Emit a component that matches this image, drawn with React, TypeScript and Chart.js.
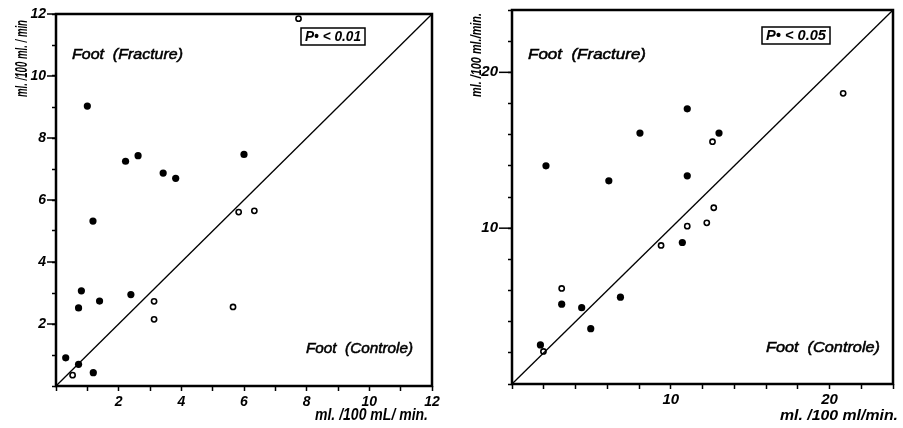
import React, { useEffect, useRef } from 'react';
import { Chart, registerables } from 'chart.js';

Chart.register(...registerables);

// ---- Data ----
// Left panel: 0..12 ml/100 ml/min
const leftFilledX = [1.0, 2.22, 2.62, 3.42, 3.82, 6.0, 1.18, 0.81, 0.72, 1.39, 2.39, 0.31, 0.72, 1.19];
const leftFilledY = [9.03, 7.25, 7.43, 6.87, 6.7, 7.47, 5.32, 3.07, 2.52, 2.74, 2.95, 0.91, 0.7, 0.43];
const leftOpenX = [7.74, 5.83, 6.33, 3.13, 3.13, 5.65, 0.53];
const leftOpenY = [11.85, 5.61, 5.65, 2.73, 2.15, 2.55, 0.35];
const leftLabeledTicks = [2, 4, 6, 8, 10, 12];

// Right panel: 0..24 ml/100 ml/min
const rightFilledX = [2.14, 6.1, 8.06, 11.04, 13.04, 11.04, 10.73, 3.13, 4.39, 4.96, 6.83, 1.79];
const rightFilledY = [14.0, 13.04, 16.1, 17.66, 16.1, 13.36, 9.08, 5.12, 4.9, 3.55, 5.57, 2.51];
const rightOpenX = [20.86, 12.63, 12.71, 12.27, 11.04, 9.39, 3.13, 1.98];
const rightOpenY = [18.65, 15.55, 11.31, 10.34, 10.13, 8.89, 6.13, 2.09];
const rightLabeledTicks = [10, 20];

const FONT = '"Liberation Sans", Arial, sans-serif';

type Txt = { text: string; x: number; y: number; w: number; align: CanvasTextAlign };
type PanelProps = {
  width: number;
  max: number;
  xStep: number;
  yStep: number;
  labeled: number[];
  filledX: number[];
  filledY: number[];
  openX: number[];
  openY: number[];
  yWidth: number;
  xHeight: number;
  padTop: number;
  padRight: number;
  majorLen: number;
  yLabelPad: number;
  xLabelPad: number;
  tickSize: number;
  titleSize: number;
  yTitle: Txt;
  xTitle: Txt;
  texts: Txt[];
  pBox: { x: number; y: number; w: number; h: number; text: string };
};

function fitText(ctx: CanvasRenderingContext2D, t: Txt, rot = 0, stroke = 0) {
  const m = ctx.measureText(t.text).width;
  const s = t.w / m;
  ctx.save();
  ctx.translate(t.x, t.y);
  if (rot) ctx.rotate(rot);
  ctx.scale(s, 1);
  ctx.textAlign = t.align;
  ctx.fillText(t.text, 0, 0);
  if (stroke > 0) {
    ctx.lineWidth = stroke;
    ctx.strokeText(t.text, 0, 0);
  }
  ctx.restore();
}

function Panel(p: PanelProps) {
  const ref = useRef<HTMLCanvasElement>(null);
  useEffect(() => {
    if (!ref.current) return;
    const pts = (xs: number[], ys: number[]) => xs.map((x, i) => ({ x, y: ys[i] }));
    const overlay = {
      id: 'overlay',
      afterDatasetsDraw(chart: any) {
        const { ctx, chartArea: a } = chart;
        ctx.save();
        ctx.strokeStyle = '#000';
        ctx.lineWidth = 2.5;
        ctx.strokeRect(a.left, a.top, a.right - a.left, a.bottom - a.top);
        // longer dashes at labelled y ticks
        ctx.lineWidth = 1.5;
        for (const v of p.labeled) {
          const y = chart.scales.y.getPixelForValue(v);
          ctx.beginPath();
          ctx.moveTo(a.left - p.majorLen, y);
          ctx.lineTo(a.left, y);
          ctx.stroke();
        }
        ctx.fillStyle = '#000';
        ctx.textBaseline = 'middle';
        ctx.font = `italic 14px ${FONT}`;
        for (const t of p.texts) fitText(ctx, t, 0, 0.5);
        ctx.font = `italic bold ${p.titleSize}px ${FONT}`;
        fitText(ctx, p.xTitle);
        fitText(ctx, p.yTitle, -Math.PI / 2);
        const b = p.pBox;
        ctx.lineWidth = 1.5;
        ctx.strokeRect(b.x, b.y, b.w, b.h);
        ctx.font = `italic bold 14px ${FONT}`;
        fitText(ctx, { text: b.text, x: b.x + b.w / 2, y: b.y + b.h / 2 + 1, w: b.w - 8, align: 'center' });
        ctx.restore();
      },
    };
    const tickFont = { family: FONT, size: p.tickSize, style: 'italic' as const, weight: 'bold' as const };
    const noPad = (s: any) => {
      s.paddingTop = 0;
      s.paddingBottom = 0;
      s.paddingLeft = 0;
      s.paddingRight = 0;
    };
    const chart = new Chart(ref.current, {
      type: 'scatter',
      data: {
        datasets: [
          {
            type: 'line',
            data: [{ x: 0, y: 0 }, { x: p.max, y: p.max }],
            borderColor: '#000',
            borderWidth: 1.3,
            pointRadius: 0,
            fill: false,
          } as any,
          {
            data: pts(p.filledX, p.filledY),
            pointRadius: 3.6,
            backgroundColor: '#000',
            borderColor: '#000',
            borderWidth: 0,
          },
          {
            data: pts(p.openX, p.openY),
            pointRadius: 2.6,
            backgroundColor: '#fff',
            borderColor: '#000',
            borderWidth: 1.6,
          },
        ],
      },
      options: {
        animation: false,
        responsive: false,
        layout: { autoPadding: false, padding: { top: p.padTop, right: p.padRight, left: 0, bottom: 0 } },
        plugins: { legend: { display: false }, tooltip: { enabled: false } },
        scales: {
          x: {
            type: 'linear',
            min: 0,
            max: p.max,
            afterFit: (s: any) => { s.height = p.xHeight; noPad(s); },
            border: { display: false },
            grid: { display: true, drawOnChartArea: false, drawTicks: true, tickLength: 5, tickColor: '#000', tickWidth: 1.5 },
            ticks: {
              stepSize: p.xStep,
              autoSkip: false,
              maxRotation: 0,
              padding: p.xLabelPad,
              color: '#000',
              font: tickFont,
              callback: (v: any) => (p.labeled.includes(Number(v)) ? String(v) : ''),
            },
            title: { display: false },
          },
          y: {
            type: 'linear',
            min: 0,
            max: p.max,
            afterFit: (s: any) => { s.width = p.yWidth; noPad(s); },
            border: { display: false },
            grid: { display: true, drawOnChartArea: false, drawTicks: true, tickLength: 4, tickColor: '#000', tickWidth: 1.5 },
            ticks: {
              stepSize: p.yStep,
              autoSkip: false,
              padding: p.yLabelPad,
              color: '#000',
              font: tickFont,
              callback: (v: any) => (p.labeled.includes(Number(v)) ? String(v) : ''),
            },
            title: { display: false },
          },
        },
      },
      plugins: [overlay],
    } as any);
    return () => chart.destroy();
  }, []);
  return <canvas ref={ref} width={p.width} height={428} style={{ display: 'block', width: p.width, height: 428 }} />;
}

export default function App() {
  return (
    <div style={{ position: 'absolute', left: 0, top: 0, width: 903, height: 428, background: '#fff', display: 'flex' }}>
      <Panel
        width={450}
        max={12}
        xStep={1}
        yStep={1}
        labeled={leftLabeledTicks}
        filledX={leftFilledX}
        filledY={leftFilledY}
        openX={leftOpenX}
        openY={leftOpenY}
        yWidth={56}
        xHeight={42}
        padTop={14}
        padRight={18}
        majorLen={9}
        yLabelPad={6}
        xLabelPad={3}
        tickSize={14}
        titleSize={16}
        yTitle={{ text: 'ml. /100 ml. / min', x: 23, y: 97, w: 77, align: 'left' }}
        xTitle={{ text: 'ml. /100 mL/ min.', x: 315, y: 416, w: 113, align: 'left' }}
        texts={[
          { text: 'Foot  (Fracture)', x: 72, y: 55, w: 111, align: 'left' },
          { text: 'Foot  (Controle)', x: 306, y: 349, w: 107, align: 'left' },
        ]}
        pBox={{ x: 301, y: 28, w: 64, h: 17, text: 'P• < 0.01' }}
      />
      <Panel
        width={453}
        max={24}
        xStep={2}
        yStep={2}
        labeled={rightLabeledTicks}
        filledX={rightFilledX}
        filledY={rightFilledY}
        openX={rightOpenX}
        openY={rightOpenY}
        yWidth={62}
        xHeight={44}
        padTop={10}
        padRight={10}
        majorLen={13}
        yLabelPad={10}
        xLabelPad={2}
        tickSize={15}
        titleSize={15}
        yTitle={{ text: 'ml. /100 ml./min.', x: 27, y: 97, w: 84, align: 'left' }}
        xTitle={{ text: 'ml. /100 ml/min.', x: 330, y: 416, w: 118, align: 'left' }}
        texts={[
          { text: 'Foot  (Fracture)', x: 78, y: 55, w: 118, align: 'left' },
          { text: 'Foot  (Controle)', x: 316, y: 348, w: 114, align: 'left' },
        ]}
        pBox={{ x: 312, y: 27, w: 68, h: 17, text: 'P• < 0.05' }}
      />
    </div>
  );
}
